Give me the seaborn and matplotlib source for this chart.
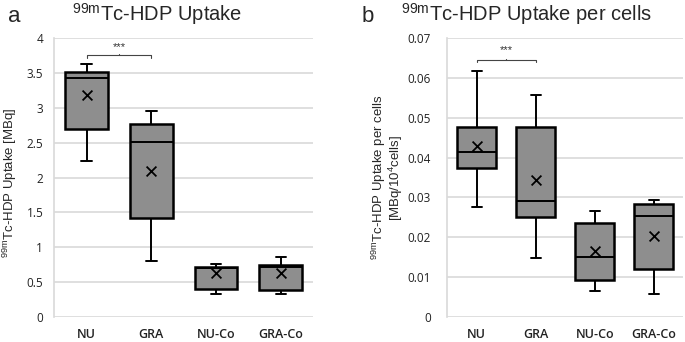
"""Box plots of 99mTc-HDP uptake (total and per cells) for four groups."""

import matplotlib.pyplot as plt
import numpy as np
import pandas as pd
import seaborn as sns

groups = ["NU", "GRA", "NU-Co", "GRA-Co"]

# Panel a: uptake [MBq] - min, q1, median, q3, max, mean per group
uptake_min = [2.24, 0.81, 0.33, 0.34]
uptake_q1 = [2.69, 1.42, 0.40, 0.39]
uptake_med = [3.42, 2.51, 0.71, 0.715]
uptake_q3 = [3.51, 2.76, 0.72, 0.745]
uptake_max = [3.63, 2.95, 0.76, 0.86]
uptake_mean = [3.18, 2.09, 0.63, 0.63]

# Panel b: uptake per cells [MBq/10^4 cells]
cells_min = [0.0275, 0.0149, 0.0067, 0.0058]
cells_q1 = [0.0375, 0.0251, 0.0093, 0.0120]
cells_med = [0.0415, 0.0292, 0.0152, 0.0254]
cells_q3 = [0.0476, 0.0476, 0.0237, 0.0284]
cells_max = [0.0616, 0.0557, 0.0267, 0.0294]
cells_mean = [0.0430, 0.0345, 0.0165, 0.0204]

BOX_COLOR = "#8e8e8e"
GRID_COLOR = "#d9d9d9"
TICK_FONT = ["Open Sans", "DejaVu Sans"]


def five_point_frame(mins, q1s, meds, q3s, maxs):
    # Five points per group reproduce the quartiles exactly with linear percentiles.
    rows = []
    for g, a, b, c, d, e in zip(groups, mins, q1s, meds, q3s, maxs):
        for v in (a, b, c, d, e):
            rows.append({"group": g, "value": v})
    return pd.DataFrame(rows)


def draw_panel(ax, df, means, ylim, step, ypad, sig_y, sig_drop, star_y):
    sns.boxplot(
        data=df, x="group", y="value", order=groups, ax=ax,
        whis=(0, 100), width=0.66, color=BOX_COLOR, saturation=1,
        linecolor="black", linewidth=1.4, showfliers=False, capwidths=0.16,
        boxprops={"linewidth": 1.8}, medianprops={"linewidth": 1.4},
    )
    ax.scatter(range(len(groups)), means, marker="x", s=50, color="black",
               linewidths=1.3, zorder=5)

    ax.set_xlim(-0.5, 3.5)
    ax.set_ylim(*ylim)
    ticks = np.arange(ylim[0], ylim[1] + step / 2, step)
    ax.set_yticks(ticks)
    ax.set_yticklabels([f"{t:g}" for t in np.round(ticks, 3)])
    ax.yaxis.grid(True, color=GRID_COLOR, linewidth=1.2)
    ax.set_axisbelow(True)
    for side in ("top", "right", "bottom"):
        ax.spines[side].set_visible(False)
    ax.spines["left"].set_color(GRID_COLOR)
    ax.spines["left"].set_linewidth(1.2)
    ax.tick_params(axis="both", length=0, labelsize=8.5, colors="#222222")
    ax.tick_params(axis="x", pad=8, labelsize=9)
    ax.tick_params(axis="y", pad=ypad)
    for lab in ax.get_yticklabels():
        lab.set_family(TICK_FONT)
    for lab in ax.get_xticklabels():
        lab.set_family(TICK_FONT)
        lab.set_fontweight(600)
    ax.set_xlabel("")

    # significance bracket between NU and GRA
    ax.plot([0, 0, 1, 1], [sig_y - sig_drop, sig_y, sig_y, sig_y - sig_drop],
            color="#444444", linewidth=0.8, clip_on=False)
    ax.plot([0.5, 0.5], [sig_y, sig_y + sig_drop * 0.6], color="#444444",
            linewidth=0.8, clip_on=False)
    ax.text(0.5, star_y, "***", ha="center", va="center", fontsize=8,
            color="#333333")


sns.set_theme(style="white")
plt.rcParams["font.family"] = ["Liberation Sans", "DejaVu Sans"]
plt.rcParams["mathtext.fontset"] = "custom"
plt.rcParams["mathtext.rm"] = "Liberation Sans"

fig = plt.figure(figsize=(6.85, 3.42), dpi=100)
ax_a = fig.add_axes([0.0793, 0.0722, 0.3777, 0.8175])
ax_b = fig.add_axes([0.653, 0.0722, 0.3445, 0.8175])

df_a = five_point_frame(uptake_min, uptake_q1, uptake_med, uptake_q3, uptake_max)
df_b = five_point_frame(cells_min, cells_q1, cells_med, cells_q3, cells_max)

draw_panel(ax_a, df_a, uptake_mean, (0, 4), 0.5, 8, 3.75, 0.04, 3.87)
draw_panel(ax_b, df_b, cells_mean, (0, 0.07), 0.01, 12, 0.0644, 0.0006, 0.0668)

ax_a.set_ylabel(r"$^{\mathrm{99m}}$Tc-HDP Uptake [MBq]", fontsize=9.5)
ax_b.set_ylabel("$^{\\mathrm{99m}}$Tc-HDP Uptake per cells\n[MBq/10$^{4}$cells]",
                fontsize=9.5, linespacing=0.95)
ax_a.yaxis.set_label_coords(-0.136, 0.48)
ax_b.yaxis.set_label_coords(-0.179, 0.5)

fig.text(0.23, 0.96, r"$^{\mathrm{99m}}$Tc-HDP Uptake", ha="center",
         va="center", fontsize=14.5)
fig.text(0.769, 0.96, r"$^{\mathrm{99m}}$Tc-HDP Uptake per cells", ha="center",
         va="center", fontsize=14.5)
fig.text(0.0204, 0.953, "a", ha="center", va="center", fontsize=16)
fig.text(0.5365, 0.953, "b", ha="center", va="center", fontsize=16)

fig.savefig("out.png", dpi=100)
